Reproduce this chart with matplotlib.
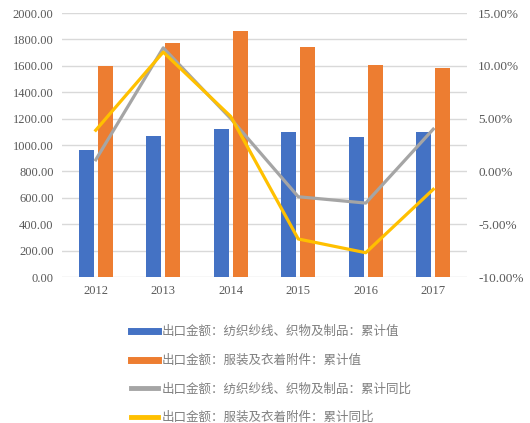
import numpy as np
import matplotlib.pyplot as plt
from matplotlib.lines import Line2D
from matplotlib.ticker import FuncFormatter

plt.rcParams['font.family'] = ['Liberation Serif', 'Noto Sans CJK SC', 'DejaVu Sans']

years = ['2012', '2013', '2014', '2015', '2016', '2017']
textile_val = [960, 1070, 1124, 1096, 1063, 1101]    # 纺织纱线、织物及制品 累计值
apparel_val = [1595, 1770, 1866, 1742, 1608, 1580]   # 服装及衣着附件 累计值
textile_yoy = [1.1, 11.7, 5.0, -2.4, -3.0, 4.0]      # 累计同比 %
apparel_yoy = [3.9, 11.3, 5.2, -6.4, -7.7, -1.7]

labels = ['出口金额：纺织纱线、织物及制品：累计值',
          '出口金额：服装及衣着附件：累计值',
          '出口金额：纺织纱线、织物及制品：累计同比',
          '出口金额：服装及衣着附件：累计同比']
colors = ['#4472c4', '#ed7d31', '#a5a5a5', '#ffc000']
txt = '#595959'

fig = plt.figure(figsize=(5.3, 4.23), dpi=100)
ax = fig.add_axes([62/530, 1 - 277/423, 405/530, 264/423])
x = np.arange(len(years))
w = 0.22
ax.bar(x - 0.14, textile_val, w, color=colors[0], zorder=2)
ax.bar(x + 0.14, apparel_val, w, color=colors[1], zorder=2)
ax.set_ylim(0, 2000)
ax.set_yticks(np.arange(0, 2001, 200))
ax.yaxis.set_major_formatter(FuncFormatter(lambda v, p: '%.2f' % v))
ax.set_xlim(-0.5, len(years) - 0.5)
ax.set_xticks(x)
ax.set_xticklabels(years)
ax.grid(axis='y', color='#d9d9d9', linewidth=1, zorder=0)
for s in ax.spines.values():
    s.set_visible(False)
ax.tick_params(length=0, labelsize=9, colors=txt, pad=6)

ax2 = ax.twinx()
ax2.plot(x, textile_yoy, color=colors[2], linewidth=2.3, zorder=3)
ax2.plot(x, apparel_yoy, color=colors[3], linewidth=2.3, zorder=4)
ax2.set_ylim(-10, 15)
ax2.set_yticks(np.arange(-10, 16, 5))
ax2.yaxis.set_major_formatter(FuncFormatter(lambda v, p: '%.2f%%' % v))
for s in ax2.spines.values():
    s.set_visible(False)
ax2.tick_params(length=0, labelsize=9.5, colors=txt, pad=8)

handles = [Line2D([], [], color=colors[0], linewidth=5),
           Line2D([], [], color=colors[1], linewidth=5),
           Line2D([], [], color=colors[2], linewidth=3.5),
           Line2D([], [], color=colors[3], linewidth=3.5)]
leg = fig.legend(handles, labels, loc='upper left', bbox_to_anchor=(120/530, 1 - 314/423),
                 frameon=False, handlelength=2.1, handletextpad=0.3,
                 labelspacing=1.25, prop={'family': ['Noto Sans CJK SC'], 'size': 9})
for t in leg.get_texts():
    t.set_color('#7f7f7f')

fig.savefig('out.png', dpi=100)
